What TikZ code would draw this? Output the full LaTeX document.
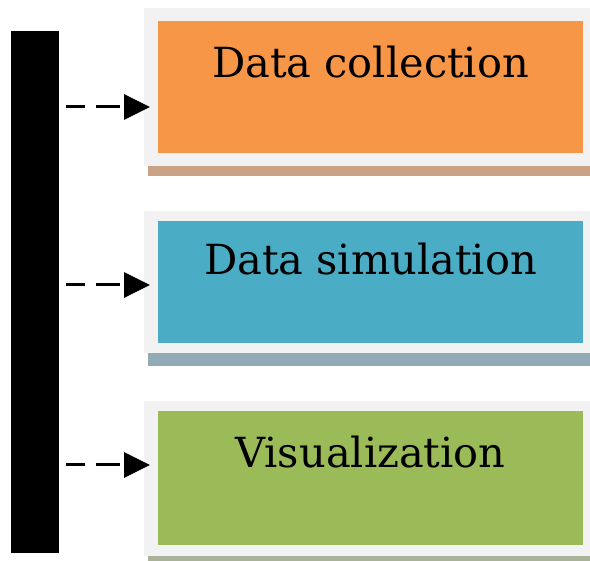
\documentclass[tikz,border=0pt]{standalone}
\usepackage{fontspec}
\setmainfont{DejaVu Serif}
\usetikzlibrary{arrows.meta}
\definecolor{framegray}{HTML}{F2F2F2}
\definecolor{collectfill}{HTML}{F79646}
\definecolor{collectshade}{HTML}{CBA285}
\definecolor{simulfill}{HTML}{4BACC6}
\definecolor{simulshade}{HTML}{93ABB6}
\definecolor{visualfill}{HTML}{9BBB59}
\definecolor{visualshade}{HTML}{AAB29A}
\begin{document}
\begin{tikzpicture}[x=1pt,y=-1pt,line cap=butt,
    frame/.style={fill=framegray,draw=none,anchor=north west,inner sep=0pt,minimum width=446pt},
    panel/.style={draw=none,anchor=north west,inner sep=0pt,minimum width=425pt},
    label/.style={anchor=base,font=\fontsize{41.5}{45}\selectfont},
    link/.style={line width=3pt,dash pattern=on 19pt off 11pt on 24pt off 10pt,
                 -{Triangle[length=26pt,width=25pt]}}]
  \useasboundingbox (0,0) rectangle (590,561);
  % left bar
  \node[fill=black,anchor=north west,inner sep=0pt,minimum width=48pt,minimum height=522pt] (bar) at (11,31) {};

  % shadows
  \fill[collectshade] (148,166) rectangle (590,176);
  \fill[simulshade] (148,353) rectangle (590,366);
  \fill[visualshade] (148,556) rectangle (590,561);

  % boxes
  \node[frame,minimum height=158pt] (collect) at (144,8) {};
  \node[panel,fill=collectfill,minimum height=132pt] (collectin) at (158,21) {};
  \node[frame,minimum height=142pt] (simul) at (144,211) {};
  \node[panel,fill=simulfill,minimum height=122pt] (simulin) at (158,221) {};
  \node[frame,minimum height=155pt] (visual) at (144,401) {};
  \node[panel,fill=visualfill,minimum height=134pt] (visualin) at (158,411) {};

  % texts
  \node[label] (collecttxt) at (370.5,78) {Data collection};
  \node[label] (simultxt) at (370.5,275) {Data simulation};
  \node[label] (visualtxt) at (370.5,468) {Visualization};

  % arrows
  \coordinate (collectend) at (150,107);
  \coordinate (simulend) at (150,285);
  \coordinate (visualend) at (150,465);
  \draw[link,shorten <=7pt] (bar.east |- collectend) -- (collectend);
  \draw[link,shorten <=7pt] (bar.east |- simulend) -- (simulend);
  \draw[link,shorten <=7pt] (bar.east |- visualend) -- (visualend);
\end{tikzpicture}
\end{document}
